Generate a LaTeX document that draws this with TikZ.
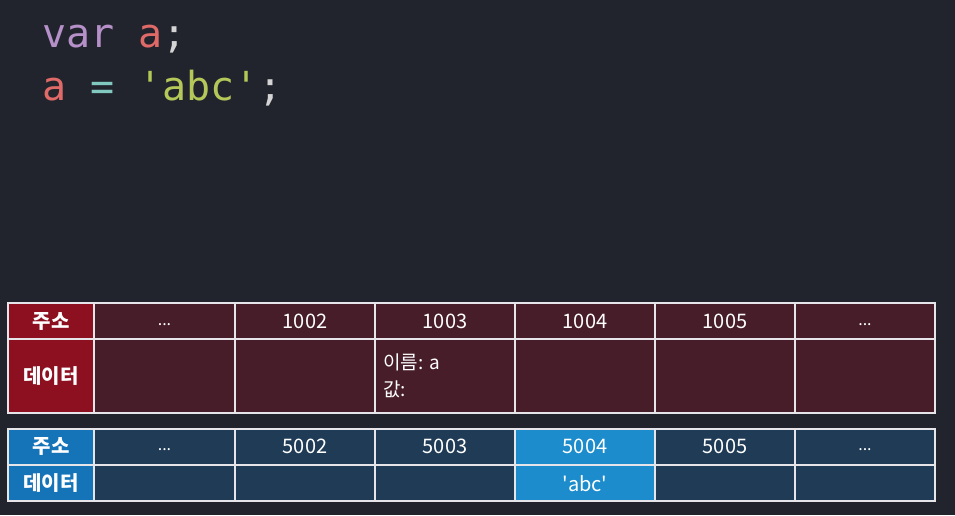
\documentclass[tikz,border=0pt]{standalone}
\usepackage{fontspec}
\newfontfamily\kr{Noto Sans CJK KR}
\newfontfamily\code{DejaVu Sans Mono}
\definecolor{bg}{HTML}{22242D}
\definecolor{redlab}{HTML}{8C1020}
\definecolor{redcell}{HTML}{461D29}
\definecolor{bluelab}{HTML}{1574B8}
\definecolor{bluecell}{HTML}{1F3B56}
\definecolor{hilite}{HTML}{1C8CCC}
\definecolor{gridc}{HTML}{E6E6EA}
\definecolor{cvar}{HTML}{B690C8}
\definecolor{cid}{HTML}{E06A68}
\definecolor{ceq}{HTML}{80C8C0}
\definecolor{cstr}{HTML}{B4C85A}
\definecolor{cpun}{HTML}{D4D4D4}
\tikzset{
  cell/.style={draw=gridc, line width=1.6pt},
  celltxt/.style={text=white, font=\kr\fontsize{20}{22}\selectfont, inner sep=0pt},
  labtxt/.style={text=white, font=\kr\bfseries\fontsize{20}{22}\selectfont, inner sep=0pt},
  codetxt/.style={font=\code\fontsize{40}{44}\selectfont, inner sep=0pt, anchor=base west},
}
\begin{document}
\begin{tikzpicture}[x=1pt,y=-1pt]
\useasboundingbox[fill=bg] (0,0) rectangle (955,515);
% code
\node[codetxt] (l1) at (42,47) {\textcolor{cvar}{var} \textcolor{cid}{a}\textcolor{cpun}{;}};
\node[codetxt] (l2) at (42,100) {\textcolor{cid}{a} \textcolor{ceq}{=} \textcolor{cstr}{'abc'}\textcolor{cpun}{;}};
% tables
\def\xs{{8,94,235,375,515,655,795,935}}
\foreach \i in {0,...,6}{
  \pgfmathsetmacro{\xa}{\xs[\i]}
  \pgfmathsetmacro{\xb}{\xs[\i+1]}
  \ifnum\i=0
    \def\fc{redlab}
  \else
    \def\fc{redcell}
  \fi
  \draw[cell, fill=\fc] (\xa,303) rectangle (\xb,339);
  \draw[cell, fill=\fc] (\xa,339) rectangle (\xb,413);
  \ifnum\i=0
    \def\fb{bluelab}
  \else\ifnum\i=4
    \def\fb{hilite}
  \else
    \def\fb{bluecell}
  \fi\fi
  \draw[cell, fill=\fb] (\xa,429) rectangle (\xb,465);
  \draw[cell, fill=\fb] (\xa,465) rectangle (\xb,501);
}
% red labels
\node[labtxt] (ra) at (51,321) {주소};
\node[labtxt] (rd) at (51,376) {데이터};
\node[celltxt, font=\kr\fontsize{16}{18}\selectfont] (r1) at (164.5,325) {...};
\node[celltxt] (r2) at (305,321) {1002};
\node[celltxt] (r3) at (445,321) {1003};
\node[celltxt] (r4) at (585,321) {1004};
\node[celltxt] (r5) at (725,321) {1005};
\node[celltxt, font=\kr\fontsize{16}{18}\selectfont] (r6) at (865,325) {...};
\node[celltxt, anchor=base west, font=\kr\fontsize{19}{21}\selectfont] (nm) at (383,369) {이름: a};
\node[celltxt, anchor=base west, font=\kr\fontsize{19}{21}\selectfont] (vl) at (383,396) {값:};
% blue labels
\node[labtxt] (ba) at (51,446) {주소};
\node[labtxt] (bd) at (51,483) {데이터};
\node[celltxt, font=\kr\fontsize{16}{18}\selectfont] (b1) at (164.5,450) {...};
\node[celltxt] (b2) at (305,446) {5002};
\node[celltxt] (b3) at (445,446) {5003};
\node[celltxt] (b4) at (585,446) {5004};
\node[celltxt] (b5) at (725,446) {5005};
\node[celltxt, font=\kr\fontsize{16}{18}\selectfont] (b6) at (865,450) {...};
\node[celltxt] (bv) at (585,484) {'abc'};
\end{tikzpicture}
\end{document}
